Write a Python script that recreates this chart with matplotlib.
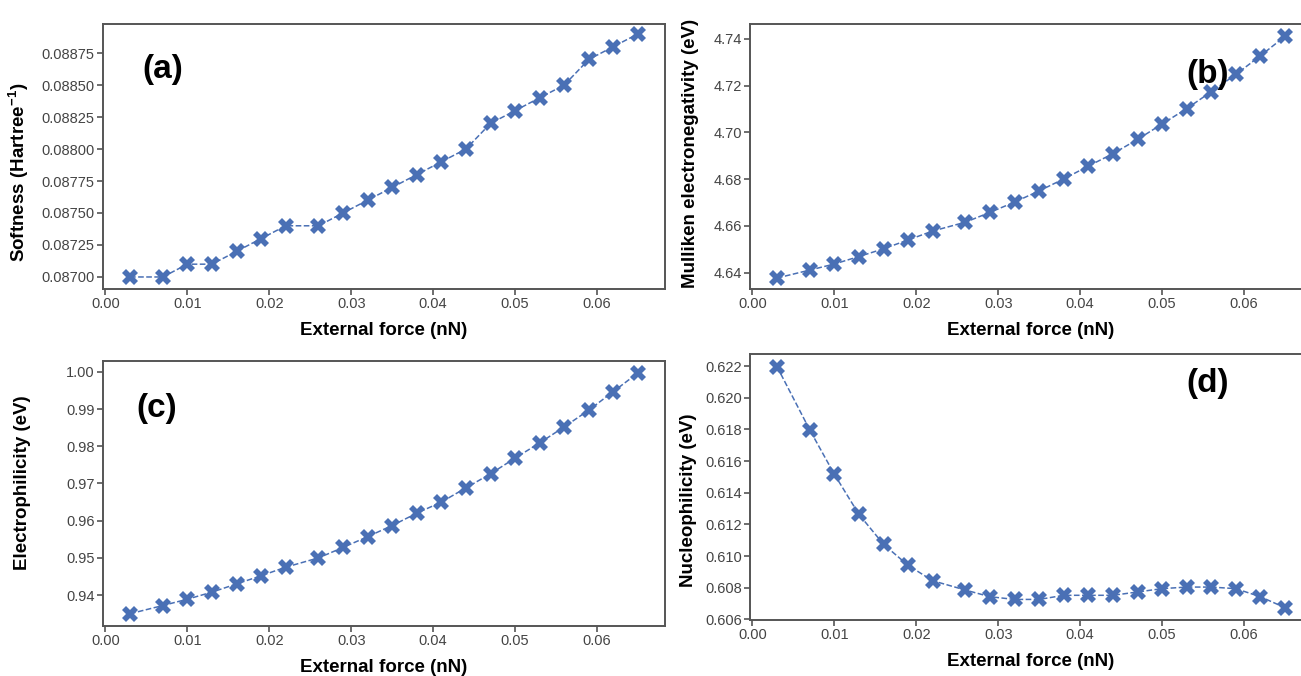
import matplotlib.pyplot as plt
import numpy as np

plt.rcParams['font.family'] = ['Liberation Sans', 'DejaVu Sans']
plt.rcParams['mathtext.fontset'] = 'custom'
plt.rcParams['mathtext.rm'] = 'Liberation Sans'
plt.rcParams['mathtext.bf'] = 'Liberation Sans:bold'

force = [0.003, 0.007, 0.010, 0.013, 0.016, 0.019, 0.022, 0.026, 0.029, 0.032, 0.035,
         0.038, 0.041, 0.044, 0.047, 0.050, 0.053, 0.056, 0.059, 0.062, 0.065]

softness = [0.08700, 0.08700, 0.08710, 0.08710, 0.08720, 0.08730, 0.08740, 0.08740,
            0.08750, 0.08760, 0.08770, 0.08780, 0.08790, 0.08800, 0.08820, 0.08830,
            0.08840, 0.08850, 0.08870, 0.08880, 0.08890]

mulliken = [4.6377, 4.6411, 4.6437, 4.6469, 4.6502, 4.6540, 4.6578, 4.6616, 4.6658,
            4.6702, 4.6750, 4.6801, 4.6856, 4.6909, 4.6970, 4.7036, 4.7102, 4.7174,
            4.7248, 4.7328, 4.7411]

electrophilicity = [0.9350, 0.9372, 0.9389, 0.9408, 0.9430, 0.9452, 0.9475, 0.9500,
                    0.9528, 0.9557, 0.9587, 0.9620, 0.9650, 0.9688, 0.9726, 0.9768,
                    0.9809, 0.9852, 0.9897, 0.9947, 0.9997]

nucleophilicity = [0.62196, 0.61796, 0.61516, 0.61263, 0.61074, 0.60941, 0.60844,
                   0.60785, 0.60743, 0.60726, 0.60726, 0.60752, 0.60752, 0.60752,
                   0.60773, 0.60794, 0.60804, 0.60804, 0.60794, 0.60743, 0.60674]

W, H = 1301, 676
fig = plt.figure(figsize=(W / 100, H / 100), dpi=100)

def px_axes(left, top, right, bottom):
    return fig.add_axes([left / W, 1 - bottom / H, (right - left) / W, (bottom - top) / H])

blue = '#4a70b5'
edge = '#555555'

panels = [
    # (box, y, ylabel, ylim, yticks, fmt, label, label pos, ylabel pos)
    ((103, 24, 665, 289), softness, 'Softness (Hartree$^{\\mathbf{-1}}$)',
     (0.086906, 0.088977), np.arange(0.08700, 0.08876, 0.00025), '%.5f', '(a)', (0.07, 0.83), (-0.128, 0.44)),
    ((750, 24, 1312, 289), mulliken, 'Mulliken electronegativity (eV)',
     (4.633, 4.7464), np.arange(4.64, 4.741, 0.02), '%.2f', '(b)', (0.777, 0.81), (-0.091, 0.51)),
    ((103, 361, 665, 626), electrophilicity, 'Electrophilicity (eV)',
     (0.9317, 1.0029), np.arange(0.94, 1.001, 0.01), '%.2f', '(c)', (0.06, 0.82), (-0.128, 0.54)),
    ((750, 354, 1312, 620), nucleophilicity, 'Nucleophilicity (eV)',
     (0.60596, 0.62276), np.arange(0.606, 0.6221, 0.002), '%.3f', '(d)', (0.777, 0.89), (-0.094, 0.45)),
]

for box, yv, ylab, ylim, yt, fmt, lab, lpos, ylpos in panels:
    ax = px_axes(*box)
    ax.plot(force, yv, color=blue, linestyle='--', linewidth=1.1, marker='X',
            markersize=11, markeredgewidth=0)
    ax.set_xlim(-0.0003, 0.0683)
    ax.set_ylim(*ylim)
    ax.set_xticks(np.arange(0, 0.061, 0.01))
    ax.set_xticklabels(['%.2f' % t for t in np.arange(0, 0.061, 0.01)])
    ax.set_yticks(yt)
    ax.set_yticklabels([fmt % t for t in yt])
    ax.tick_params(direction='out', length=4, width=1.2, color=edge,
                   labelsize=10.5, labelcolor='#444444', pad=2)
    for s in ax.spines.values():
        s.set_color(edge)
        s.set_linewidth(1.4)
    ax.set_xlabel('External force (nN)', fontsize=13.5, fontweight='bold', labelpad=8)
    ax.set_ylabel(ylab, fontsize=13.5, fontweight='bold')
    ax.yaxis.set_label_coords(*ylpos)
    ax.text(lpos[0], lpos[1], lab, transform=ax.transAxes, fontsize=24,
            fontweight='bold', va='center', ha='left')

fig.savefig('out.png', dpi=100)
